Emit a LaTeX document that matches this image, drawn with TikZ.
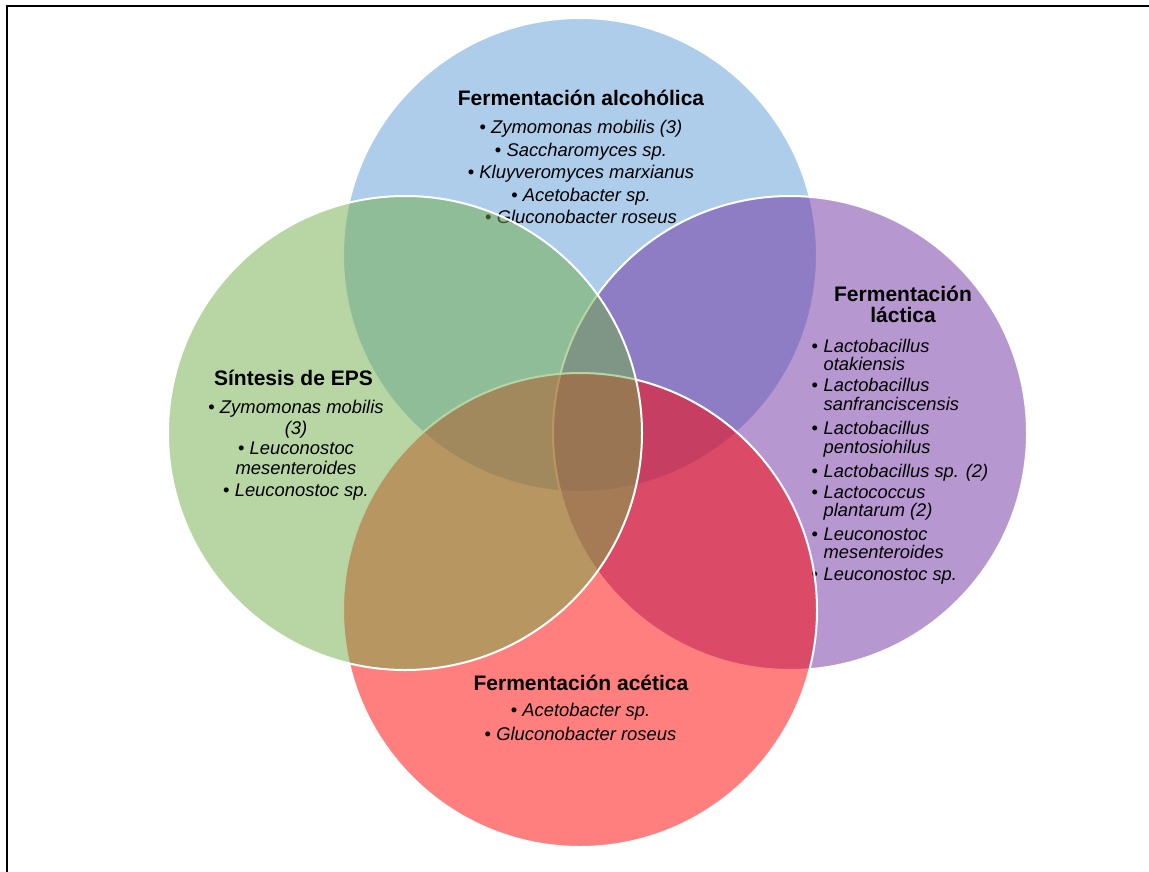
\documentclass[tikz,border=0pt]{standalone}
\usepackage{fontspec}
\setmainfont{Liberation Sans}

\definecolor{alcblue}{HTML}{5B9BD5}
\definecolor{epsgreen}{HTML}{70AD47}
\definecolor{lacpurple}{HTML}{7030A0}
\definecolor{acered}{HTML}{FF0000}

\begin{document}
\begin{tikzpicture}[x=1pt,y=-1pt]
  \tikzset{venn/.style = {circle,minimum size=474pt,inner sep=0pt,draw=white,line width=2pt,fill opacity=0.5}}
  \tikzset{head/.style = {font=\fontsize{21}{21}\selectfont\bfseries,align=center,inner sep=0pt}}
  \tikzset{list/.style = {font=\fontsize{18.4}{19.5}\selectfont,align=center,inner sep=0pt}}
  \tikzset{frame/.style = {draw=black,line width=2pt}}

\useasboundingbox (0,0) rectangle (1149,872);
\draw[frame] (7,880) |- (1160,6);

% alcoholica
\node[venn,fill=alcblue] (alc) at (580,255) {};
\node[head] (alchead) at (581,98) {Fermentación alcohólica};
\node[list,anchor=north] (alclist) at (581,120)
  {• \textit{Zymomonas mobilis (3)}\\[3pt]
   • \textit{Saccharomyces sp.}\\[3pt]
   • \textit{Kluyveromyces marxianus}\\[3pt]
   • \textit{Acetobacter sp.}\\[3pt]
   • \textit{Gluconobacter roseus}};

% lactica
\node[venn,fill=lacpurple] (lac) at (790,433) {};
\node[head] (lachead) at (903,304) {Fermentación\\láctica};
\node[list,anchor=north west,align=left,font=\fontsize{18.3}{18.5}\selectfont] (laclist) at (811.5,339)
  {\makebox[12pt][l]{•}\textit{Lactobacillus}\\
   \hspace*{12pt}\textit{otakiensis}\\[2.5pt]
   \makebox[12pt][l]{•}\textit{Lactobacillus}\\
   \hspace*{12pt}\textit{sanfranciscensis}\\[5.8pt]
   \makebox[12pt][l]{•}\textit{Lactobacillus}\\
   \hspace*{12pt}\textit{pentosiohilus}\\[5.8pt]
   \makebox[12pt][l]{•}\textit{Lactobacillus sp. (2)}\\[2.2pt]
   \makebox[12pt][l]{•}\textit{Lactococcus}\\
   \hspace*{12pt}\textit{plantarum (2)}\\[4.8pt]
   \makebox[12pt][l]{•}\textit{Leuconostoc}\\
   \hspace*{12pt}\textit{mesenteroides}\\[3.2pt]
   \makebox[12pt][l]{•}\textit{Leuconostoc sp.}};

% acetica
\node[venn,fill=acered] (ace) at (580,610) {};
\node[head] (acehead) at (581,683) {Fermentación acética};
\node[list,anchor=north] (acelist) at (580.5,703)
  {• \textit{Acetobacter sp.}\\[4.8pt]
   • \textit{Gluconobacter roseus}};

% EPS
\node[venn,fill=epsgreen] (eps) at (405,433) {};
\node[head] (epshead) at (293.5,378) {Síntesis de EPS};
\node[list,anchor=north] (epslist) at (296,400)
  {• \textit{Zymomonas mobilis}\\[1pt]
   \textit{(3)}\\[1pt]
   • \textit{Leuconostoc}\\
   \textit{mesenteroides}\\[3pt]
   • \textit{Leuconostoc sp.}};

\end{tikzpicture}
\end{document}
